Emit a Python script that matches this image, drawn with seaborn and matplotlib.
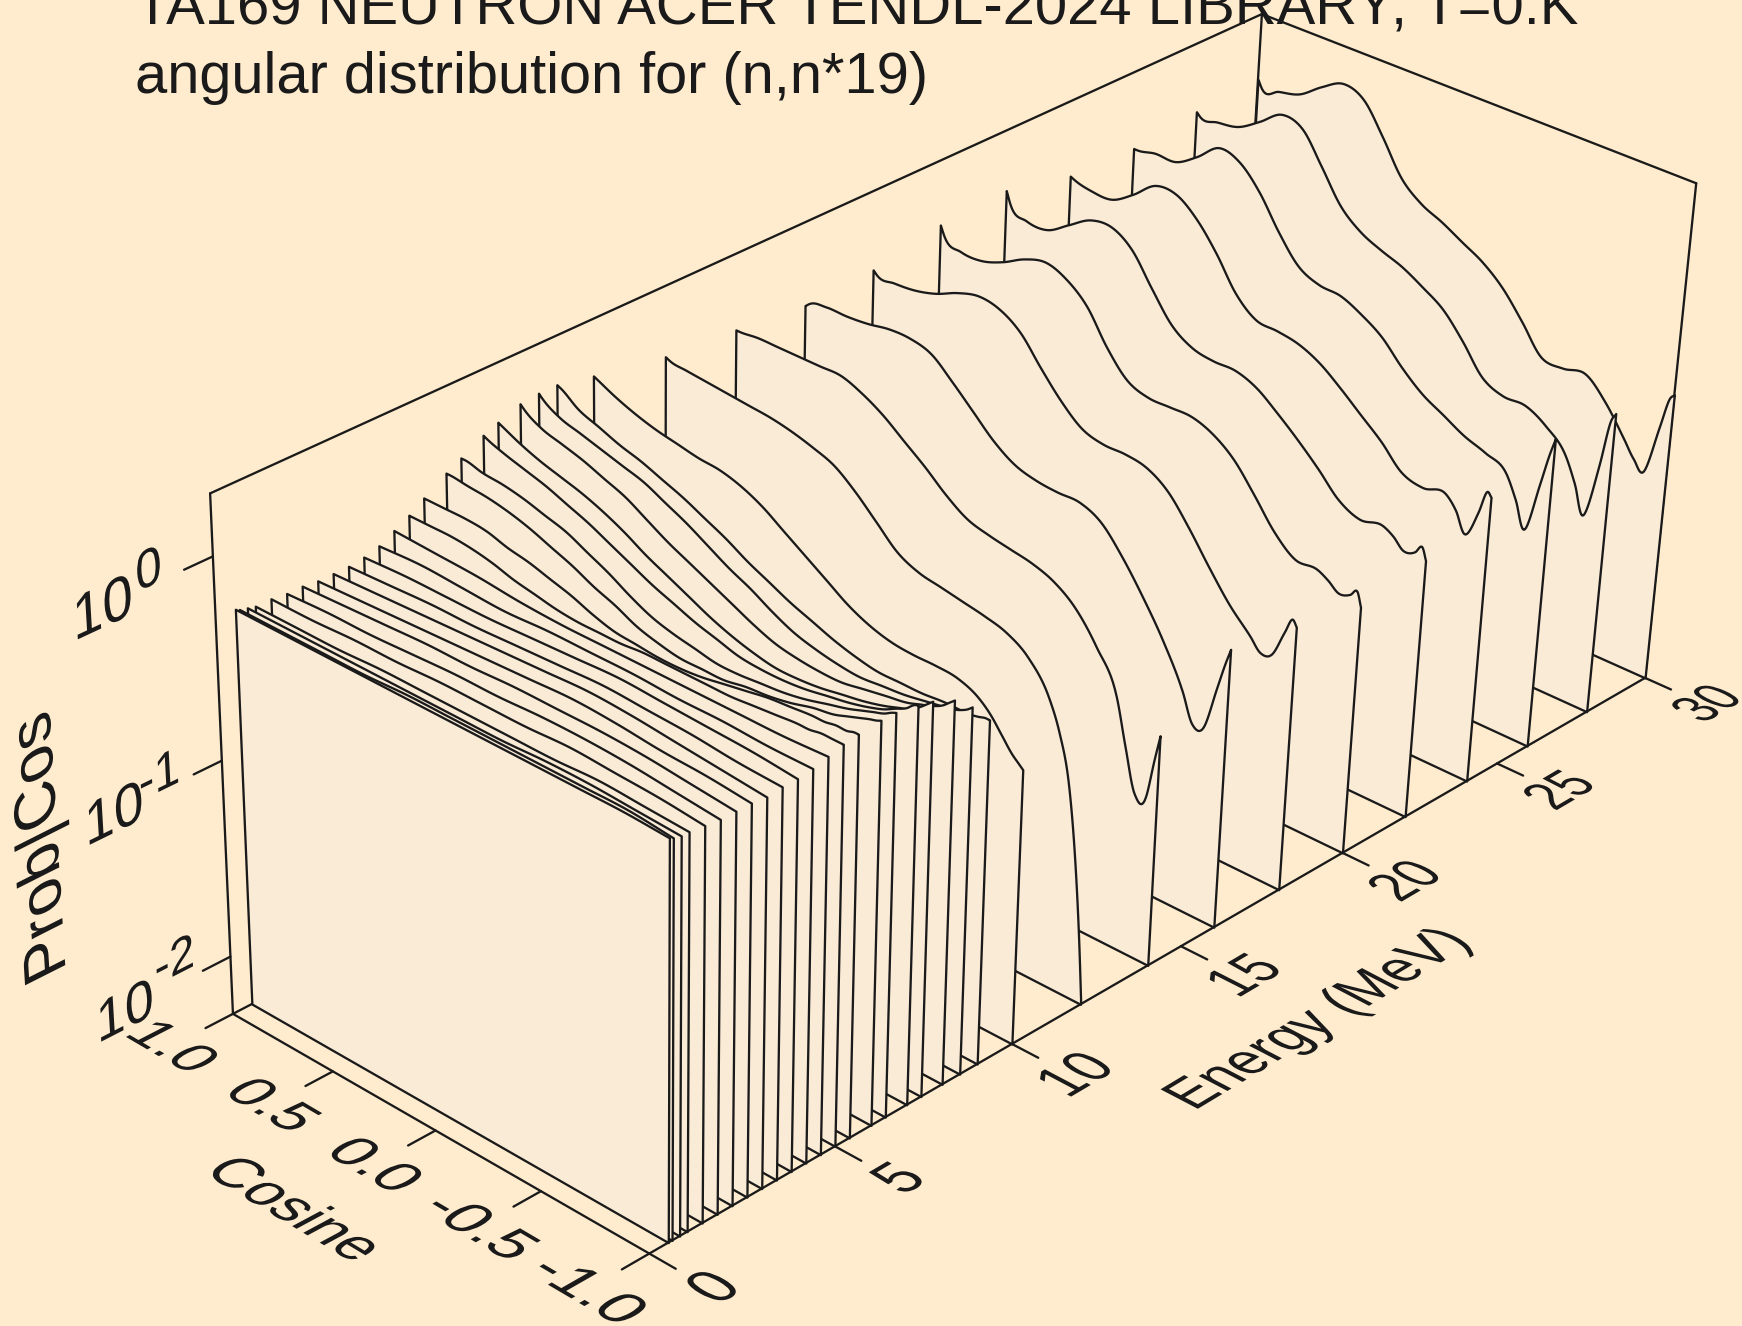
import numpy as np
import matplotlib
matplotlib.use('Agg')
import matplotlib.pyplot as plt
import seaborn as sns
from matplotlib.patheffects import AbstractPathEffect
from matplotlib.transforms import Affine2D
from matplotlib.textpath import TextPath
from matplotlib.font_manager import FontProperties
from mpl_toolkits.mplot3d.art3d import Poly3DCollection

TITLE_1 = "TA169 NEUTRON ACER TENDL-2024 LIBRARY; T=0.K"
TITLE_2 = "angular distribution for (n,n*19)"
XLABEL, YLABEL, ZLABEL = "Cosine", "Energy (MeV)", "Prob|Cos"
COS_TICKS = [1.0, 0.5, 0.0, -0.5, -1.0]
COS_TICK_LABELS = ["1.0", "0.5", "0.0", "-0.5", "-1.0"]
E_TICKS = [0, 5, 10, 15, 20, 25, 30]
Z_TICKS = [0, -1, -2]
Z_EXPONENTS = ["0", "-1", "-2"]

# log10(probability per unit cosine), in hundredths of a decade
COS_FINE = [1, .98, .9, .8, .7, .6, .5, .4, .3, .2, .1, 0, -.1, -.2, -.3, -.4, -.5, -.6, -.7, -.8, -.85, -.9, -.95, -.98, -1]
E30 = [-4, -8, -6, -3, 5, 11, 7, -8, -25, -34, -39, -45, -51, -60, -73, -87, -88, -86, -96, -111, -119, -123, -97, -81, -78]
E28 = [-6, -8, -7, -5, 2, 10, 7, -8, -24, -33, -38, -42, -48, -55, -67, -81, -86, -86, -92, -103, -115, -129, -100, -76, -71]
E26 = [-10, -10, -8, -8, -1, 8, 5, -6, -22, -35, -40, -41, -46, -53, -64, -73, -79, -85, -89, -95, -106, -119, -93, -76, -67]
E24 = [-9, -10, -12, -12, -5, 4, 4, -4, -17, -33, -42, -43, -45, -50, -58, -67, -76, -87, -90, -88, -94, -104, -90, -78, -80]
E22 = [-1, -7, -12, -12, -5, 2, 3, -4, -19, -33, -40, -42, -42, -46, -54, -63, -73, -84, -89, -87, -90, -95, -93, -89, -95]
E20 = [-3, -8, -12, -12, -8, -2, 1, -3, -12, -28, -40, -44, -44, -44, -48, -56, -69, -83, -92, -92, -95, -99, -97, -94, -101]
E18 = [-10, -12, -12, -11, -8, -3, 0, -2, -9, -22, -34, -43, -46, -46, -48, -55, -68, -83, -97, -108, -114, -112, -98, -90, -93]
E16 = [-12, -10, -8, -8, -7, -5, -5, -8, -17, -27, -37, -44, -47, -48, -48, -53, -65, -80, -97, -118, -132, -131, -108, -94, -86]
E14 = [-8, -8, -7, -7, -7, -7, -7, -11, -17, -25, -33, -42, -49, -52, -54, -56, -60, -68, -82, -102, -125, -146, -145, -124, -111]
E12 = [-5, -6, -7, -8, -9, -10, -11, -13, -16, -20, -28, -38, -48, -53, -55, -57, -59, -62, -69, -84, -98, -120, -163, -199, -228]
E10 = [2, 1, -3, -7, -10, -12, -14, -15, -18, -23, -30, -37, -44, -51, -56, -59, -60, -60, -61, -66, -71, -78, -85, -88, -90]
E9 = [6, 5, -1, -5, -9, -12, -16, -20, -25, -30, -36, -41, -46, -50, -54, -57, -59, -59, -59, -58, -58, -58, -57, -56, -56]
E8_5 = [6, 4, -1, -4, -7, -10, -13, -18, -23, -29, -35, -40, -46, -51, -54, -56, -57, -56, -55, -53, -52, -51, -49, -47, -45]
E8 = [5, 3, -2, -5, -8, -12, -16, -22, -28, -33, -38, -43, -48, -52, -54, -55, -55, -53, -51, -49, -47, -45, -42, -39, -37]
E7_4 = [1, 0, -4, -8, -11, -14, -18, -23, -29, -34, -39, -44, -48, -51, -53, -53, -52, -50, -48, -45, -43, -41, -37, -34, -32]
E7 = [-2, -3, -6, -9, -12, -16, -20, -25, -30, -35, -39, -43, -46, -49, -50, -50, -49, -47, -45, -42, -40, -37, -34, -31, -30]
E6_4 = [-8, -8, -10, -11, -13, -16, -19, -24, -29, -35, -40, -43, -45, -47, -47, -46, -45, -43, -40, -37, -35, -33, -31, -29, -28]
E6 = [-12, -12, -13, -14, -16, -19, -23, -27, -32, -36, -41, -44, -46, -46, -46, -44, -43, -41, -38, -36, -34, -32, -30, -29, -28]
E5_4 = [-19, -19, -19, -19, -20, -23, -25, -28, -31, -35, -38, -39, -40, -40, -39, -37, -35, -33, -32, -31, -31, -30, -30, -29, -29]
E5 = [-24, -24, -24, -24, -25, -27, -30, -32, -34, -35, -35, -35, -34, -34, -34, -34, -34, -33, -32, -31, -31, -30, -30, -30, -30]
FINE_ENERGIES = [30, 28, 26, 24, 22, 20, 18, 16, 14, 12, 10, 9, 8.5, 8, 7.4, 7, 6.4, 6, 5.4, 5]
FINE_CURVES = [E30, E28, E26, E24, E22, E20, E18, E16, E14, E12, E10, E9, E8_5, E8, E7_4, E7, E6_4, E6, E5_4, E5]

COS_COARSE = [1, .8, .6, .4, .2, 0, -.2, -.4, -.6, -.8, -1]
E4_6 = [-28, -29, -30, -32, -33, -33, -33, -33, -33, -33, -32]
E4_2 = [-32, -31, -32, -33, -32, -32, -32, -33, -33, -34, -34]
E3_8 = [-34, -33, -33, -33, -32, -31, -30, -31, -32, -33, -35]
E3_4 = [-35, -34, -33, -33, -32, -31, -30, -31, -32, -34, -35]
E3_0 = [-35, -34, -33, -32, -31, -30, -29, -30, -32, -34, -36]
E2_6 = [-35, -34, -33, -32, -31, -30, -29, -30, -32, -33, -35]
E2_2 = [-34, -33, -32, -31, -31, -30, -30, -30, -31, -33, -35]
E1_8 = [-34, -33, -33, -32, -31, -31, -30, -30, -31, -33, -35]
E1_4 = [-33, -33, -32, -32, -31, -31, -31, -30, -31, -32, -34]
E1_0 = [-33, -33, -33, -32, -32, -32, -32, -32, -31, -32, -33]
E0_8 = [-32, -32, -32, -32, -32, -32, -32, -31, -31, -32, -33]
E0_6 = [-31, -31, -31, -31, -30, -30, -30, -30, -30, -30, -32]
E0_5 = [-30, -30, -30, -30, -30, -30, -30, -30, -30, -30, -31]
COARSE_ENERGIES = [4.6, 4.2, 3.8, 3.4, 3.0, 2.6, 2.2, 1.8, 1.4, 1.0, 0.8, 0.6, 0.5]
COARSE_CURVES = [E4_6, E4_2, E3_8, E3_4, E3_0, E2_6, E2_2, E1_8, E1_4, E1_0, E0_8, E0_6, E0_5]

BG = '#FFEBCD'
PANEL = '#FAEBD7'
LW = 1.65
COS_LIM = (1.0, -1.0)
E_LIM = (0.0, 30.0)
Z_LIM = (-2.3, 0.3)
W, H = 1742, 1326
# camera of the picture: (cos, energy, log10 P, 1) -> pixel
CAMERA = np.array([[-206.18, 42.07, -14.065, 425.08],
                   [-93.833, -16.255, -226.7, 665.94],
                   [0.028271, 0.0049523, -0.021873, 1.0]])

sns.set_theme(style='white')
plt.rcParams['font.family'] = ['Liberation Sans', 'DejaVu Sans']
plt.rcParams['figure.facecolor'] = BG

fig = plt.figure(figsize=(W / 100, H / 100), dpi=100, facecolor=BG)
ax = fig.add_axes([0, 0, 1, 1], projection='3d', computed_zorder=False)
ax.set_axis_off()
ax.patch.set_visible(False)
ax.set_autoscale_on(False)
ax.apply_aspect()
flip = np.array([[1, 0, 0], [0, -1, H], [0, 0, 1.0]])
to_data = ax.transData.inverted().get_matrix()
view = to_data @ flip @ CAMERA
ax.get_proj = lambda: np.vstack([view[0], view[1], [0, -0.001, 0, -1], view[2]])


def display_xy(c, e, z):
    h = flip @ CAMERA @ np.array([c, e, z, 1.0])
    return h[:2] / h[2]


class PlanarText(AbstractPathEffect):
    """Draw a text's glyphs in the plane spanned by two display vectors (per em)."""
    def __init__(self, u, v):
        super().__init__()
        self.u, self.v = u, v

    def draw_path(self, renderer, gc, tpath, affine, rgbFace=None):
        m = affine.get_matrix()
        k = 100.0  # text2path font scale
        t = Affine2D(np.array([[self.u[0] / k, self.v[0] / k, m[0, 2]],
                               [self.u[1] / k, self.v[1] / k, m[1, 2]],
                               [0, 0, 1.0]]))
        renderer.draw_path(gc, tpath, t, rgbFace)


FP = FontProperties(family='Liberation Sans')


def plane_text(s, centre, du, dv, scale=1.0):
    du, dv = np.array(du) * scale, np.array(dv) * scale
    w = TextPath((0, 0), s, size=1, prop=FP).get_extents().x1
    a = np.array(centre) - 0.5 * w * du - 0.36 * dv
    p0 = display_xy(*a)
    u = display_xy(*(a + du)) - p0
    v = display_xy(*(a + dv)) - p0
    t = fig.text(p0[0] / W, p0[1] / H, s, ha='left', va='baseline', color='k',
                 fontsize=26 * scale, zorder=1000, family='Liberation Sans')
    t.set_path_effects([PlanarText(u, v)])
    return t


def line3(c, e, z, zorder=1):
    ax.plot(c, e, z, color='k', lw=LW, zorder=zorder, clip_on=False,
            solid_capstyle='round', solid_joinstyle='round')


def smooth(c, z, n=10):
    c, z = np.asarray(c, float), np.asarray(z, float)
    m = np.gradient(z, c)
    cc, zz = [c[0]], [z[0]]
    for i in range(len(c) - 1):
        h = c[i + 1] - c[i]
        t = np.linspace(0, 1, n + 1)[1:]
        zs = ((2 * t**3 - 3 * t**2 + 1) * z[i] + (t**3 - 2 * t**2 + t) * h * m[i]
              + (-2 * t**3 + 3 * t**2) * z[i + 1] + (t**3 - t**2) * h * m[i + 1])
        cc.extend(c[i] + t * h)
        zz.extend(zs)
    return np.array(cc), np.array(zz)


# box
c0, c1 = COS_LIM
e0, e1 = E_LIM
z0, z1 = Z_LIM
line3([c0, c0], [e0, e0], [z0, z1])
line3([c0, c0], [e0, e1], [z1, z1])
line3([c0, c1], [e1, e1], [z1, z1])
line3([c1, c1], [e1, e1], [z1, z0])
line3([c0, c0], [e1, e1], [z1, z0])
line3([c0, c0], [e0, e1], [z0, z0])
line3([c0, c1], [e0, e0], [z0, z0], zorder=2000)
line3([c1, c1], [e0, e1], [z0, z0], zorder=2000)

# panels, far to near
order = 10
for cosv, energies, curves in ((COS_FINE, FINE_ENERGIES, FINE_CURVES),
                               (COS_COARSE, COARSE_ENERGIES, COARSE_CURVES)):
    for e, vals in zip(energies, curves):
        cc, zz = smooth(cosv, np.array(vals) / 100.0)
        zz = np.maximum(zz, z0)
        verts = list(zip(cc, np.full_like(cc, e), zz)) + [(c1, e, z0), (c0, e, z0)]
        poly = Poly3DCollection([verts], facecolors=PANEL, edgecolors='k', linewidths=LW, zorder=order)
        ax.add_collection3d(poly, autolim=False)
        poly.set_clip_on(False)
        order += 1

# ticks
TICK_E, TICK_C = 0.72, 0.12
for c in COS_TICKS:
    line3([c, c], [e0, -TICK_E], [z0, z0], zorder=2000)
for e in E_TICKS:
    line3([c1, c1 - TICK_C], [e, e], [z0, z0], zorder=2000)
for z in Z_TICKS:
    line3([c0, c0], [e0, -TICK_E], [z, z], zorder=2000)

# in-plane text
EM_E, EM_C, EM_Z = 1.32, 0.25, 0.29
for c, s in zip(COS_TICKS, COS_TICK_LABELS):
    plane_text(s, (c, -1.55, z0), (-EM_C, 0, 0), (0, EM_E, 0))
for e in E_TICKS:
    plane_text(str(e), (-1.265, e + 0.05, z0), (0, EM_E, 0), (EM_C, 0, 0))
for z, s in zip(Z_TICKS, Z_EXPONENTS):
    plane_text("10", (c0, -2.75, z + 0.01), (0, EM_E, 0), (0, 0, EM_Z))
    shift_e, shift_z = (-1.45, 0.14) if z == -2 else (-1.6, 0.09)
    plane_text(s, (c0, shift_e, z + shift_z), (0, EM_E, 0), (0, 0, EM_Z), scale=0.88)
plane_text(XLABEL, (0.0, -3.6, z0), (-0.24, 0, 0), (0, 1.35, 0))
plane_text(YLABEL, (-1.616, 14.8, z0), (0, 1.33, 0), (0.24, 0, 0))
plane_text(ZLABEL, (c0, -4.65, -0.99), (0, 0, 0.32), (0, -1.45, 0))

fig.text(135 / W, 1 - 24 / H, TITLE_1, fontsize=41.8, color='k', ha='left', va='baseline', family='Liberation Sans')
fig.text(135 / W, 1 - 93 / H, TITLE_2, fontsize=41.6, color='k', ha='left', va='baseline', family='Liberation Sans')

fig.savefig('out.png', dpi=100, facecolor=BG)
